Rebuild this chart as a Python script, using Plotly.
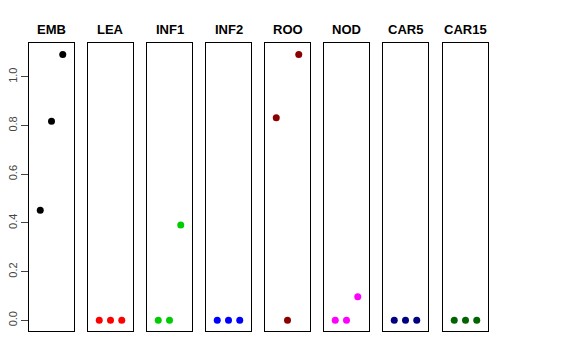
import plotly.graph_objects as go

panels = ["EMB", "LEA", "INF1", "INF2", "ROO", "NOD", "CAR5", "CAR15"]
colors = ["#000000", "#FF0000", "#00CD00", "#0000FF", "#8B0000", "#FF00FF", "#000080", "#006400"]
positions = [1, 2, 3]
values = {
    "EMB": [0.452, 0.818, 1.092],
    "LEA": [0.0, 0.0, 0.0],
    "INF1": [0.0, 0.0, 0.392],
    "INF2": [0.0, 0.0, 0.0],
    "ROO": [0.832, 0.0, 1.092],
    "NOD": [0.0, 0.0, 0.097],
    "CAR5": [0.0, 0.0, 0.0],
    "CAR15": [0.0, 0.0, 0.0],
}
y_ticks = [0.0, 0.2, 0.4, 0.6, 0.8, 1.0]

W, H = 576, 360
left_px = [29, 88, 147, 206, 265, 324, 383, 443]
panel_w = 45
top_px, bot_px = 43, 331
ydom = [1 - bot_px / H, 1 - top_px / H]

fig = go.Figure()
layout = dict(
    width=W, height=H,
    margin=dict(l=0, r=0, t=0, b=0, autoexpand=False),
    paper_bgcolor="white", plot_bgcolor="white",
    showlegend=False,
    font=dict(family="Liberation Sans, Arial, sans-serif", color="#000"),
)
annotations = []
ymin, ymax = -0.0438, 1.139
for i, name in enumerate(panels):
    k = "" if i == 0 else str(i + 1)
    fig.add_trace(go.Scatter(
        x=positions, y=values[name], mode="markers",
        marker=dict(color=colors[i], size=7),
        xaxis="x" + k, yaxis="y" + k, hoverinfo="skip",
    ))
    x0 = left_px[i] / W
    x1 = (left_px[i] + panel_w) / W
    layout["xaxis" + k] = dict(
        domain=[x0, x1], range=[0, 4], showticklabels=False, ticks="",
        showgrid=False, zeroline=False, showline=True, mirror=True,
        linecolor="#000", linewidth=1, anchor="y" + k, fixedrange=True,
        automargin=False,
    )
    yax = dict(
        domain=ydom, range=[ymin, ymax], showgrid=False, zeroline=False,
        showline=True, mirror=True, linecolor="#000", linewidth=1,
        anchor="x" + k, fixedrange=True, automargin=False,
    )
    if i == 0:
        yax.update(tickvals=y_ticks, ticktext=[f"{v:.1f}" for v in y_ticks],
                   ticks="outside", ticklen=7, tickcolor="#444", tickangle=-90,
                   tickfont=dict(size=11, color="#444"))
    else:
        yax.update(showticklabels=False, ticks="")
    layout["yaxis" + k] = yax
    annotations.append(dict(
        text="<b>" + name + "</b>", x=(left_px[i] + panel_w / 2) / W, y=1 - 29 / H,
        xref="paper", yref="paper", showarrow=False, xanchor="center", yanchor="middle",
        font=dict(size=13, color="#000"),
    ))
layout["annotations"] = annotations
fig.update_layout(**layout)
fig.write_html("out.html", post_script="document.body.style.margin='0';",
               config={"displayModeBar": False})
